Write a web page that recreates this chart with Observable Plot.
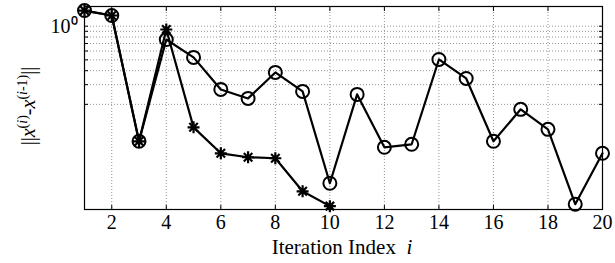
<!DOCTYPE html>
<html>
<head>
<meta charset="utf-8">
<script src="https://cdn.jsdelivr.net/npm/d3@7"></script>
<script src="https://cdn.jsdelivr.net/npm/@observablehq/plot@0.6"></script>
<style>
  html, body { margin: 0; padding: 0; background: #fff; }
  #chart svg { display: block; }
  #chart svg text, #chart svg tspan { font-family: "Liberation Serif", serif; }
</style>
</head>
<body>
<div id="chart"></div>
<script>
// ---- data ----
const iterationsO = [1, 2, 3, 4, 5, 6, 7, 8, 9, 10, 11, 12, 13, 14, 15, 16, 17, 18, 19, 20];
const normO = [1.38, 1.246, 0.0935, 0.760, 0.526, 0.272, 0.226, 0.386, 0.261, 0.0394,
               0.2455, 0.0826, 0.0879, 0.504, 0.341, 0.0935, 0.1805, 0.1196, 0.0256, 0.0730];
const iterationsStar = [1, 2, 3, 4, 5, 6, 7, 8, 9, 10];
const normStar = [1.38, 1.246, 0.0935, 0.934, 0.1246, 0.0730, 0.0673, 0.0659, 0.0334, 0.0246];
const xTicks = [2, 4, 6, 8, 10, 12, 14, 16, 18, 20];
const xGrid = [2, 4, 6, 8, 10, 12, 14, 16, 18];
const yTicks = [0.2, 0.3, 0.4, 0.5, 0.6, 0.7, 0.8, 0.9, 1];
const xDomain = [1, 20];
const yDomain = [0.02295, 1.5];

const seriesO = iterationsO.map((x, k) => ({x, y: normO[k]}));
const seriesStar = iterationsStar.map((x, k) => ({x, y: normStar[k]}));

// MATLAB-like '*' marker (plus + cross)
const asterisk8 = {
  draw(ctx, size) {
    const r = Math.sqrt(size / Math.PI);
    const d = r * Math.SQRT1_2;
    ctx.moveTo(-r, 0); ctx.lineTo(r, 0);
    ctx.moveTo(0, -r); ctx.lineTo(0, r);
    ctx.moveTo(-d, -d); ctx.lineTo(d, d);
    ctx.moveTo(-d, d); ctx.lineTo(d, -d);
  }
};

const font = "Liberation Serif";
const gridStyle = {stroke: "#777", strokeWidth: 0.8, strokeDasharray: "1,2"};

const chart = Plot.plot({
  width: 615,
  height: 263,
  marginLeft: 84,
  marginRight: 13,
  marginTop: 6,
  marginBottom: 54,
  style: {fontFamily: font, fontSize: "20px", color: "#000", background: "#fff"},
  x: {domain: xDomain, label: null},
  y: {type: "log", domain: yDomain, label: null},
  marks: [
    Plot.ruleX(xGrid, gridStyle),
    Plot.ruleY(yTicks, gridStyle),
    Plot.frame({stroke: "#000", strokeWidth: 1.2}),
    Plot.axisX(xTicks, {anchor: "bottom", tickSize: -4, tickPadding: 9, fontSize: 20, label: null}),
    Plot.axisX(xTicks, {anchor: "top", tickSize: -4, tickFormat: () => "", label: null}),
    Plot.axisY(yTicks, {anchor: "left", tickSize: -4, tickPadding: 11, fontSize: 20,
                        tickFormat: d => d === 1 ? "10\u2070" : "", label: null}),
    Plot.axisY(yTicks, {anchor: "right", tickSize: -4, tickFormat: () => "", label: null}),
    Plot.line(seriesO, {x: "x", y: "y", stroke: "#000", strokeWidth: 2.2}),
    Plot.line(seriesStar, {x: "x", y: "y", stroke: "#000", strokeWidth: 2.2}),
    Plot.dot(seriesO, {x: "x", y: "y", r: 6.5, stroke: "#000", strokeWidth: 2, fill: "none"}),
    Plot.dot(seriesStar, {x: "x", y: "y", r: 6, symbol: asterisk8, stroke: "#000", strokeWidth: 2.2, fill: "none"})
  ]
});

document.getElementById("chart").appendChild(chart);

// Rich-text axis titles
const svg = d3.select(chart);
const yl = svg.append("text")
  .attr("transform", "translate(35,106) rotate(-90)")
  .attr("text-anchor", "middle")
  .attr("font-family", font)
  .attr("font-size", 20)
  .attr("fill", "#000");
yl.append("tspan").text("||");
yl.append("tspan").attr("font-style", "italic").text("x");
yl.append("tspan").attr("font-size", 14).attr("dy", -8).text("(");
yl.append("tspan").attr("font-size", 14).attr("font-style", "italic").text("i");
yl.append("tspan").attr("font-size", 14).text(")");
yl.append("tspan").attr("dy", 8).text("-");
yl.append("tspan").attr("font-style", "italic").text("x");
yl.append("tspan").attr("font-size", 14).attr("dy", -8).text("(");
yl.append("tspan").attr("font-size", 14).attr("font-style", "italic").text("i");
yl.append("tspan").attr("font-size", 14).text("-1)");
yl.append("tspan").attr("dy", 8).text("||");

const xl = svg.append("text")
  .attr("x", 342)
  .attr("y", 254)
  .attr("text-anchor", "middle")
  .attr("font-family", font)
  .attr("font-size", 21)
  .attr("fill", "#000");
xl.append("tspan").text("Iteration Index\u00a0\u00a0");
xl.append("tspan").attr("font-style", "italic").text("i");
</script>
</body>
</html>
